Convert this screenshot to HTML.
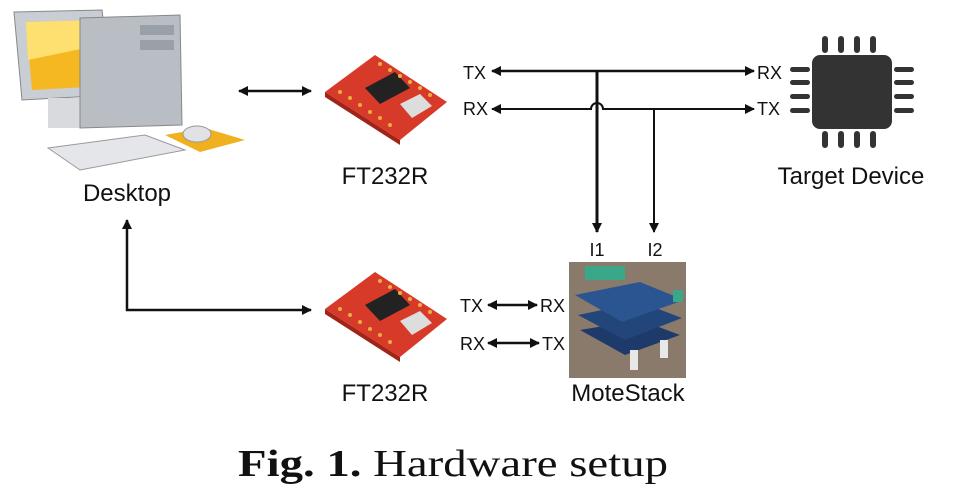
<!DOCTYPE html>
<html><head><meta charset="utf-8"><style>
html,body{margin:0;padding:0;background:#fff;width:961px;height:491px;overflow:hidden}
svg{display:block}
.s{font-family:"Liberation Sans",sans-serif;fill:#111}
</style></head><body>
<svg width="961" height="491" viewBox="0 0 961 491" xmlns="http://www.w3.org/2000/svg">
<defs>
<marker id="a" viewBox="0 0 10 10" refX="9" refY="5" markerWidth="12" markerHeight="10" markerUnits="userSpaceOnUse" orient="auto-start-reverse"><path d="M0,0 L10,5 L0,10 z" fill="#111"/></marker>
<g id="board">
<polygon points="325,92 375,55 447,102 400,140" fill="#d83a2a"/>
<polygon points="325,92 400,140 400,145 325,97" fill="#a02418"/>
<polygon points="365,88 395,72 410,88 380,104" fill="#222"/>
<polygon points="400,104 420,94 432,106 412,118" fill="#ddd"/>
<g fill="#e8b040"><circle cx="340" cy="92" r="2"/><circle cx="350" cy="98" r="2"/><circle cx="360" cy="105" r="2"/><circle cx="370" cy="112" r="2"/><circle cx="380" cy="118" r="2"/><circle cx="390" cy="125" r="2"/><circle cx="380" cy="64" r="2"/><circle cx="390" cy="70" r="2"/><circle cx="400" cy="76" r="2"/><circle cx="410" cy="82" r="2"/><circle cx="420" cy="88" r="2"/><circle cx="430" cy="95" r="2"/></g>
</g>
</defs>
<g>
<polygon points="14,12 102,10 112,95 22,100" fill="#c9cdd4" stroke="#888"/>
<polygon points="26,22 98,20 105,86 32,90" fill="#f5b820"/>
<polygon points="26,22 98,20 100,45 28,60" fill="#fde070"/>
<rect x="48" y="98" width="34" height="30" fill="#d8dade"/>
<polygon points="80,18 180,15 182,125 80,128" fill="#b9bdc4" stroke="#888"/>
<rect x="140" y="25" width="34" height="10" fill="#9aa0a8"/>
<rect x="140" y="40" width="34" height="10" fill="#9aa0a8"/>
<polygon points="48,148 145,135 185,150 80,170" fill="#e4e6ea" stroke="#999"/>
<polygon points="165,135 205,128 245,140 200,152" fill="#f0b020"/>
<ellipse cx="197" cy="134" rx="14" ry="8" fill="#e0e2e6" stroke="#999"/>
</g>
<text class="s" x="127" y="201" font-size="24" text-anchor="middle">Desktop</text>
<line x1="239" y1="91" x2="311" y2="91" stroke="#111" stroke-width="2.5" marker-start="url(#a)" marker-end="url(#a)"/>
<use href="#board"/>
<use href="#board" transform="translate(0,217)"/>
<text class="s" x="385" y="184" font-size="24" text-anchor="middle">FT232R</text>
<text class="s" x="385" y="401" font-size="24" text-anchor="middle">FT232R</text>
<text class="s" x="463" y="79" font-size="18">TX</text>
<text class="s" x="463" y="115" font-size="18">RX</text>
<line x1="492" y1="71" x2="754" y2="71" stroke="#111" stroke-width="2.5" marker-start="url(#a)" marker-end="url(#a)"/>
<path d="M492,109 H591 A6,6 0 0 1 603,109 H754" fill="none" stroke="#111" stroke-width="2" marker-start="url(#a)" marker-end="url(#a)"/>
<line x1="597" y1="71" x2="597" y2="232" stroke="#111" stroke-width="3" marker-end="url(#a)"/>
<line x1="654" y1="109" x2="654" y2="232" stroke="#111" stroke-width="2" marker-end="url(#a)"/>
<text class="s" x="597" y="256" font-size="18" text-anchor="middle">I1</text>
<text class="s" x="655" y="256" font-size="18" text-anchor="middle">I2</text>
<text class="s" x="757" y="79" font-size="18">RX</text>
<text class="s" x="757" y="115" font-size="18">TX</text>
<g fill="#333">
<rect x="812" y="55" width="80" height="74" rx="8"/>
<rect x="822" y="36" width="6" height="17" rx="3"/><rect x="838" y="36" width="6" height="17" rx="3"/><rect x="854" y="36" width="6" height="17" rx="3"/><rect x="870" y="36" width="6" height="17" rx="3"/>
<rect x="822" y="131" width="6" height="17" rx="3"/><rect x="838" y="131" width="6" height="17" rx="3"/><rect x="854" y="131" width="6" height="17" rx="3"/><rect x="870" y="131" width="6" height="17" rx="3"/>
<rect x="790" y="67" width="20" height="5" rx="2.5"/><rect x="790" y="80" width="20" height="5" rx="2.5"/><rect x="790" y="94" width="20" height="5" rx="2.5"/><rect x="790" y="108" width="20" height="5" rx="2.5"/>
<rect x="894" y="67" width="20" height="5" rx="2.5"/><rect x="894" y="80" width="20" height="5" rx="2.5"/><rect x="894" y="94" width="20" height="5" rx="2.5"/><rect x="894" y="108" width="20" height="5" rx="2.5"/>
</g>
<text class="s" x="851" y="184" font-size="24" text-anchor="middle">Target Device</text>
<path d="M127,220 V310 H311" fill="none" stroke="#111" stroke-width="2.5" marker-start="url(#a)" marker-end="url(#a)"/>
<text class="s" x="460" y="312" font-size="18">TX</text>
<text class="s" x="460" y="350" font-size="18">RX</text>
<text class="s" x="540" y="312" font-size="18">RX</text>
<text class="s" x="542" y="350" font-size="18">TX</text>
<line x1="488" y1="305" x2="537" y2="305" stroke="#111" stroke-width="2.5" marker-start="url(#a)" marker-end="url(#a)"/>
<line x1="488" y1="343" x2="539" y2="343" stroke="#111" stroke-width="2.5" marker-start="url(#a)" marker-end="url(#a)"/>
<rect x="569" y="262" width="117" height="116" fill="#8a7a6c"/>
<polygon points="580,330 640,320 680,335 625,355" fill="#1e3a6a"/>
<polygon points="578,315 640,302 682,318 625,340" fill="#22457a"/>
<polygon points="575,295 640,282 684,300 622,322" fill="#2a5590"/>
<rect x="585" y="266" width="40" height="14" fill="#3aa888"/>
<rect x="673" y="290" width="10" height="12" fill="#3aa888"/>
<rect x="630" y="350" width="8" height="20" fill="#e8e8e8"/>
<rect x="660" y="340" width="8" height="18" fill="#e8e8e8"/>
<text class="s" x="628" y="401" font-size="24" text-anchor="middle">MoteStack</text>
<text x="238" y="476" font-size="38" font-family="'Liberation Serif',serif" fill="#111" textLength="430" lengthAdjust="spacingAndGlyphs"><tspan font-weight="bold">Fig. 1.</tspan> Hardware setup</text>
</svg>
</body></html>
